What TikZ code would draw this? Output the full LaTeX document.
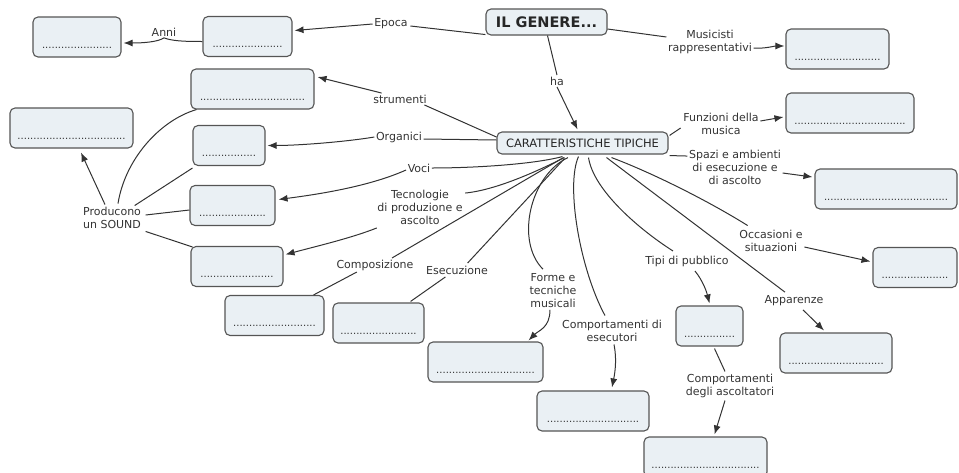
\documentclass[tikz,border=0pt]{standalone}
\usepackage{fontspec}
\setmainfont{DejaVu Sans}
\usetikzlibrary{arrows.meta,calc}
\ExplSyntaxOn
\NewDocumentCommand\puntini{m}{\prg_replicate:nn{#1}{.}}
\ExplSyntaxOff

\definecolor{boxfill}{HTML}{EAF0F4}
\definecolor{boxline}{HTML}{555555}
\definecolor{ink}{HTML}{333333}

\begin{document}
\begin{tikzpicture}[x=1pt,y=-1pt,
  box/.style={draw=boxline, line width=1.1pt, fill=boxfill, rounded corners=5pt},
  slot/.style={box, minimum width=#1, minimum height=40pt, text height=28pt,
    text depth=6pt, inner ysep=3pt, inner xsep=0pt,
    font=\fontsize{10}{12}\selectfont, text=ink},
  concept/.style={box, inner sep=0pt, text=black!85},
  lbl/.style={font=\fontsize{11}{13}\selectfont, align=center, inner sep=1.5pt, text=ink},
  conn/.style={draw=ink, line width=1pt},
  arr/.style={conn, -{Latex[length=9pt,width=7pt]}}]

\useasboundingbox (0,0) rectangle (959,472);

% main concepts
\node[concept, minimum width=121pt, minimum height=26pt,
  font=\bfseries\fontsize{14.5}{16}\selectfont] (genere) at (546.5,22) {IL GENERE...};
\node[concept, minimum width=171pt, minimum height=22pt,
  font=\fontsize{11.5}{13}\selectfont] (caratt) at (582.5,143) {CARATTERISTICHE TIPICHE};

% empty slots to fill in
\node[slot=88]  (anniBox)   at (77,37)      {\puntini{22}};
\node[slot=89]  (epocaBox)  at (247.5,36.5) {\puntini{22}};
\node[slot=123] (strumBox)  at (252.5,89)   {\puntini{33}};
\node[slot=123] (soundBox)  at (71.5,128)   {\puntini{34}};
\node[slot=72]  (organBox)  at (229,145.5)  {\puntini{17}};
\node[slot=85]  (vociBox)   at (232.5,205.5){\puntini{21}};
\node[slot=92]  (tecnoBox)  at (237,266.5)  {\puntini{23}};
\node[slot=99]  (composBox) at (274.5,315.5){\puntini{26}};
\node[slot=91]  (esecBox)   at (378.5,323)  {\puntini{24}};
\node[slot=115] (formeBox)  at (485.5,362)  {\puntini{31}};
\node[slot=112] (cEsecBox)  at (593,411)    {\puntini{29}};
\node[slot=67]  (tipiBox)   at (709.5,326)  {\puntini{16}};
\node[slot=123] (cAscBox)   at (705.5,457)  {\puntini{34}};
\node[slot=112] (appBox)    at (836,353)    {\puntini{30}};
\node[slot=84]  (occBox)    at (915,267.5)  {\puntini{21}};
\node[slot=142] (spaziBox)  at (886,189)    {\puntini{39}};
\node[slot=128] (funzBox)   at (850,113)    {\puntini{35}};
\node[slot=103] (musBox)    at (837.5,49)   {\puntini{27}};

% linking phrases
\node[lbl] (anniL)   at (164,32)  {Anni};
\node[lbl] (epocaL)  at (391,24)  {Epoca};
\node[lbl] (musL)    at (710,42)  {Musicisti\\rappresentativi};
\node[lbl] (haL)     at (557,81)  {ha};
\node[lbl] (strumL)  at (400,99)  {strumenti};
\node[lbl] (organL)  at (399,137) {Organici};
\node[lbl] (funzL)   at (721,124) {Funzioni della\\musica};
\node[lbl] (spaziL)  at (735,167) {Spazi e ambienti\\di esecuzione e\\di ascolto};
\node[lbl] (vociL)   at (419,168) {Voci};
\node[lbl] (tecnoL)  at (420,207) {Tecnologie\\di produzione e\\ascolto};
\node[lbl] (soundL)  at (112,218) {Producono\\un SOUND};
\node[lbl] (composL) at (375,265) {Composizione};
\node[lbl] (esecL)   at (457,270) {Esecuzione};
\node[lbl] (formeL)  at (553,291) {Forme e\\tecniche\\musicali};
\node[lbl] (cEsecL)  at (612,331) {Comportamenti di\\esecutori};
\node[lbl] (tipiL)   at (687,261) {Tipi di pubblico};
\node[lbl] (cAscL)   at (730,386) {Comportamenti\\degli ascoltatori};
\node[lbl] (appL)    at (794,301) {Apparenze};
\node[lbl] (occL)    at (771,241) {Occasioni e\\situazioni};

% IL GENERE... links
\draw[conn] ($(genere.south west)+(0,-1)$) -- ($(epocaL.east)+(1,2)$);
\draw[arr] (epocaL.west) -- ($(epocaBox.east)+(2,-6)$);
\draw[conn] ($(epocaBox.west)+(0,5)$) .. controls +(-20,0) and +(8,3) .. (anniL.south);
\draw[arr] (anniL.south) .. controls +(-6,4) and +(20,0) .. ($(anniBox.east)+(2,6)$);
\draw[conn] ($(genere.east)+(0,7)$) -- ($(musL.west)+(0,-5)$);
\draw[arr] ($(musL.east)+(0,6)$) .. controls +(10,1) and +(-10,0) .. ($(musBox.west)+(-1,-3)$);
\draw[conn] ($(genere.south)+(1,0)$) -- (haL.north);
\draw[arr] (haL.south) -- ($(caratt.north)+(-5,-2)$);

% CARATTERISTICHE TIPICHE links, left side
\draw[conn] ($(caratt.west)+(0,-6)$) -- ($(strumL.south east)+(-4,0)$);
\draw[arr] ($(strumL.north west)+(10,0)$) -- ($(strumBox.east)+(3,-12)$);
\draw[conn] ($(caratt.west)+(0,-3)$) -- ($(organL.east)+(0,2)$);
\draw[arr] (organL.west) .. controls +(-30,5) and +(30,0) .. ($(organBox.east)+(2,0)$);
\draw[conn] ($(caratt.south)+(-20,2)$) .. controls +(-30,8) and +(40,0) .. (vociL.east);
\draw[arr] ($(vociL.west)+(0,2)$) .. controls +(-40,18) and +(30,-4) .. ($(vociBox.east)+(3,-6)$);
\draw[conn] ($(caratt.south)+(-18,3)$) .. controls +(-30,15) and +(30,-3) .. ($(tecnoL.north east)+(1,5)$);
\draw[arr] ($(tecnoL.south west)+(1,2)$) .. controls +(-25,10) and +(30,-8) .. ($(tecnoBox.east)+(2,-12)$);
\draw[conn] ($(caratt.south)+(-19,3)$) -- ($(composL.north)+(17,0)$);
\draw[conn] ($(composL.south west)+(22,0)$) -- ($(composBox.north east)+(-11,0)$);
\draw[conn] ($(caratt.south)+(-18,4)$) -- ($(esecL.north east)+(-22,-1)$);
\draw[conn] ($(esecL.south west)+(21,1)$) -- ($(esecBox.north east)+(-14,-1)$);

% CARATTERISTICHE TIPICHE links, downward
\draw[conn] ($(caratt.south)+(-14.5,3)$) .. controls +(-38,18) and +(-28,-28) .. ($(formeL.north)+(-10,-3)$);
\draw[arr] ($(formeL.south)+(-3,0)$) .. controls +(0,18) and +(10,-10) .. ($(formeBox.north east)+(-15,-1)$);
\draw[conn] ($(caratt.south)+(-4,2)$) .. controls +(-13,29) and +(-25,-46) .. ($(cEsecL.north)+(-7,-3)$);
\draw[arr] ($(cEsecL.south)+(2,1)$) .. controls +(3,15) and +(3,-15) .. ($(cEsecBox.north)+(19,-3)$);
\draw[conn] ($(caratt.south)+(6,3)$) .. controls +(5,33) and +(-33,-21) .. ($(tipiL.north)+(-14,-3)$);
\draw[arr] ($(tipiL.south)+(8,3)$) .. controls +(8,10) and +(-3,-12) .. ($(tipiBox.north)+(0,-2)$);
\draw[conn] ($(tipiBox.south)+(5,2)$) -- ($(cAscL.north)+(-5,-1)$);
\draw[arr] ($(cAscL.south)+(-5,1)$) -- ($(cAscBox.north)+(9,-2)$);
\draw[conn] ($(caratt.south)+(24,3)$) -- ($(appL.north)+(-9,-2)$);
\draw[arr] ($(appL.south)+(9,2)$) -- ($(appBox.north)+(-12,-2)$);
\draw[conn] ($(caratt.south)+(29,3)$) .. controls +(40,15) and +(-40,-25) .. ($(occL.north west)+(10,-3)$);
\draw[arr] ($(occL.east)+(0,6)$) -- ($(occBox.west)+(-2,-6)$);

% CARATTERISTICHE TIPICHE links, right side
\draw[conn] ($(caratt.north east)+(1,4)$) -- ($(funzL.west)+(-1,4)$);
\draw[arr] ($(funzL.east)+(0,-3)$) -- ($(funzBox.west)+(-2,4)$);
\draw[conn] ($(caratt.south east)+(1,1)$) -- ($(spaziL.north west)+(0,8)$);
\draw[arr] ($(spaziL.east)+(0,6)$) -- ($(spaziBox.west)+(-2,-12)$);

% Producono un SOUND
\draw[arr] ($(soundL.north)+(-7,-1)$) -- ($(soundBox.south)+(9.5,4)$);
\draw[conn] ($(soundL.north)+(6,-2)$) .. controls +(7,-44) and +(-37,11) .. ($(strumBox.south west)+(6,0)$);
\draw[conn] ($(soundL.north east)+(-8,0)$) -- ($(organBox.south west)+(0,2)$);
\draw[conn] ($(soundL.east)+(3,-3)$) -- ($(vociBox.west)+(0,4.5)$);
\draw[conn] ($(soundL.south east)+(3,1)$) -- ($(tecnoBox.north west)+(2,1)$);
\end{tikzpicture}
\end{document}
